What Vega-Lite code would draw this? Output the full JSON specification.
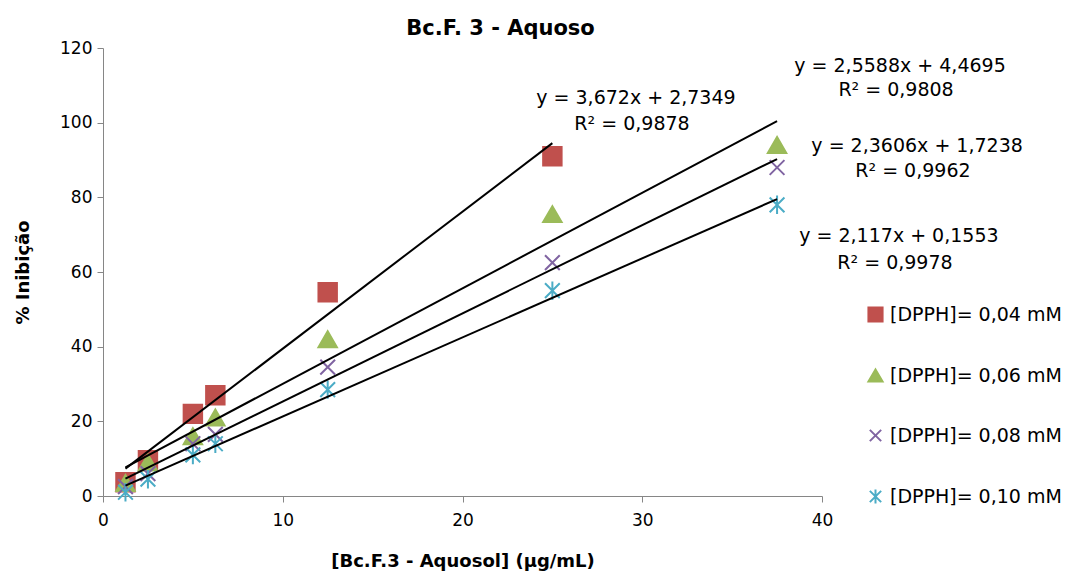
{
  "$schema": "https://vega.github.io/schema/vega-lite/v6.json",
  "autosize": "none",
  "width": 719,
  "height": 448,
  "padding": {"left": 103, "top": 48, "right": 254, "bottom": 80},
  "background": "white",
  "config": {
    "font": "DejaVu Sans",
    "view": {"stroke": null},
    "axis": {
      "grid": false,
      "domainColor": "#868686",
      "tickColor": "#868686",
      "tickSize": 6,
      "labelFlush": false,
      "labelFontSize": 17,
      "labelColor": "#000000",
      "titleFontSize": 18,
      "titleFontWeight": "bold",
      "titleColor": "#000000",
      "labelFont": "DejaVu Sans",
      "titleFont": "DejaVu Sans"
    }
  },
  "title": {
    "text": "Bc.F. 3 - Aquoso",
    "fontSize": 21,
    "fontWeight": "bold",
    "font": "DejaVu Sans",
    "color": "#000000",
    "anchor": "middle",
    "dx": 38,
    "offset": 0
  },
  "datasets": {
    "pts": [
      {"serie": "[DPPH]= 0,04 mM", "x": 1.25, "y": 3.7},
      {"serie": "[DPPH]= 0,04 mM", "x": 2.5, "y": 9.6},
      {"serie": "[DPPH]= 0,04 mM", "x": 5, "y": 22},
      {"serie": "[DPPH]= 0,04 mM", "x": 6.25, "y": 27},
      {"serie": "[DPPH]= 0,04 mM", "x": 12.5, "y": 54.6},
      {"serie": "[DPPH]= 0,04 mM", "x": 25, "y": 91},
      {"serie": "[DPPH]= 0,06 mM", "x": 1.25, "y": 3.5},
      {"serie": "[DPPH]= 0,06 mM", "x": 2.5, "y": 9},
      {"serie": "[DPPH]= 0,06 mM", "x": 5, "y": 16},
      {"serie": "[DPPH]= 0,06 mM", "x": 6.25, "y": 21},
      {"serie": "[DPPH]= 0,06 mM", "x": 12.5, "y": 42},
      {"serie": "[DPPH]= 0,06 mM", "x": 25, "y": 75.5},
      {"serie": "[DPPH]= 0,06 mM", "x": 37.5, "y": 94},
      {"serie": "[DPPH]= 0,08 mM", "x": 1.25, "y": 2.5},
      {"serie": "[DPPH]= 0,08 mM", "x": 2.5, "y": 6},
      {"serie": "[DPPH]= 0,08 mM", "x": 5, "y": 14},
      {"serie": "[DPPH]= 0,08 mM", "x": 6.25, "y": 16.5},
      {"serie": "[DPPH]= 0,08 mM", "x": 12.5, "y": 34.5},
      {"serie": "[DPPH]= 0,08 mM", "x": 25, "y": 62.5},
      {"serie": "[DPPH]= 0,08 mM", "x": 37.5, "y": 88},
      {"serie": "[DPPH]= 0,10 mM", "x": 1.25, "y": 1},
      {"serie": "[DPPH]= 0,10 mM", "x": 2.5, "y": 4.5},
      {"serie": "[DPPH]= 0,10 mM", "x": 5, "y": 11},
      {"serie": "[DPPH]= 0,10 mM", "x": 6.25, "y": 14},
      {"serie": "[DPPH]= 0,10 mM", "x": 12.5, "y": 28.5},
      {"serie": "[DPPH]= 0,10 mM", "x": 25, "y": 55},
      {"serie": "[DPPH]= 0,10 mM", "x": 37.5, "y": 78}
    ],
    "trend": [
      {"serie": "a", "x": 1.25, "y": 7.33},
      {"serie": "a", "x": 25, "y": 94.53},
      {"serie": "b", "x": 1.25, "y": 7.67},
      {"serie": "b", "x": 37.5, "y": 100.42},
      {"serie": "c", "x": 1.25, "y": 4.67},
      {"serie": "c", "x": 37.5, "y": 90.25},
      {"serie": "d", "x": 1.25, "y": 2.80},
      {"serie": "d", "x": 37.5, "y": 79.54}
    ],
    "labels": [
      {"x": 29.65, "y": 106.6, "t": "y = 3,672x + 2,7349"},
      {"x": 29.43, "y": 99.6, "t": "R² = 0,9878"},
      {"x": 44.34, "y": 115.2, "t": "y = 2,5588x + 4,4695"},
      {"x": 44.12, "y": 108.8, "t": "R² = 0,9808"},
      {"x": 45.29, "y": 93.8, "t": "y = 2,3606x + 1,7238"},
      {"x": 45.06, "y": 87.1, "t": "R² = 0,9962"},
      {"x": 44.28, "y": 69.6, "t": "y = 2,117x + 0,1553"},
      {"x": 44.06, "y": 62.4, "t": "R² = 0,9978"}
    ]
  },
  "layer": [
    {
      "data": {"name": "pts"},
      "mark": {"type": "point", "size": 340, "strokeWidth": 2, "opacity": 1},
      "encoding": {
        "x": {"field": "x", "type": "quantitative", "scale": {"domain": [0, 40], "nice": false}, "axis": {"values": [0, 10, 20, 30, 40], "title": "[Bc.F.3 - Aquosol] (µg/mL)", "labelPadding": 10, "titlePadding": 24}},
        "y": {"field": "y", "type": "quantitative", "scale": {"domain": [0, 120], "nice": false}, "axis": {"values": [0, 20, 40, 60, 80, 100, 120], "title": "% Inibição", "labelPadding": 5, "titlePadding": 27}},
        "shape": {"field": "serie", "type": "nominal", "scale": {"range": ["square", "triangle-up", "M-0.8,-0.8L0.8,0.8M-0.8,0.8L0.8,-0.8", "M-0.8,-0.8L0.8,0.8M-0.8,0.8L0.8,-0.8M0,-1L0,1"]}, "legend": {"title": null, "orient": "none", "legendX": 763, "legendY": 257, "labelFontSize": 19, "labelLimit": 0, "labelFont": "DejaVu Sans", "labelColor": "black", "symbolSize": 200, "symbolStrokeWidth": 2, "rowPadding": 39, "labelOffset": 5, "symbolOpacity": 1}},
        "fill": {"field": "serie", "type": "nominal", "scale": {"range": ["#C0504D", "#9BBB59", "transparent", "transparent"]}},
        "stroke": {"field": "serie", "type": "nominal", "scale": {"range": ["#C0504D", "#9BBB59", "#8064A2", "#4BACC6"]}}
      }
    },
    {
      "data": {"name": "trend"},
      "mark": {"type": "line", "color": "black", "strokeWidth": 2},
      "encoding": {
        "x": {"field": "x", "type": "quantitative"},
        "y": {"field": "y", "type": "quantitative"},
        "detail": {"field": "serie", "type": "nominal"}
      }
    },
    {
      "data": {"name": "labels"},
      "mark": {"type": "text", "fontSize": 19, "font": "DejaVu Sans", "color": "black", "align": "center", "baseline": "middle"},
      "encoding": {
        "x": {"field": "x", "type": "quantitative"},
        "y": {"field": "y", "type": "quantitative"},
        "text": {"field": "t", "type": "nominal"}
      }
    }
  ]
}
